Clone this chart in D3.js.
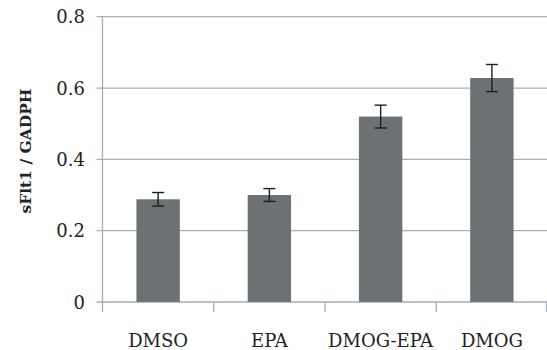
<!DOCTYPE html>
<html>
<head>
<meta charset="utf-8">
<script src="https://cdn.jsdelivr.net/npm/d3@7"></script>
<style>
  body { margin: 0; background: #fff; }
  svg { display: block; }
</style>
</head>
<body>
<svg id="chart" width="547" height="350"></svg>
<script>
const categories = ["DMSO", "EPA", "DMOG-EPA", "DMOG"];
const values = [0.288, 0.300, 0.520, 0.628];
const errors = [0.019, 0.018, 0.032, 0.038];
const yTicks = [0, 0.2, 0.4, 0.6, 0.8];
const yTickLabels = ["0", "0.2", "0.4", "0.6", "0.8"];
const yLabel = "sFlt1 / GADPH";

(function () {
const svg = d3.select("#chart");
const mLeft = 102.5, mRight = 547.5, mTop = 16.7, mBottom = 302;
const gridColor = "#a7aeb6";
const barColor = "#6c7174";
const font = "'DejaVu Serif', 'Liberation Serif', serif";

const y = d3.scaleLinear().domain([0, 0.8]).range([mBottom, mTop]);
const xBand = d3.scaleBand().domain(categories).range([mLeft, mRight]).padding(0);
const xBar = d3.scaleBand().domain(categories).range([mLeft, mRight])
  .paddingInner(0.61).paddingOuter(0.305);

// gridlines
svg.append("g").selectAll("line").data(yTicks).join("line")
  .attr("x1", mLeft - 6).attr("x2", mRight)
  .attr("y1", d => y(d)).attr("y2", d => y(d))
  .attr("stroke", gridColor).attr("stroke-width", 1.3);

// y axis line
svg.append("line")
  .attr("x1", mLeft).attr("x2", mLeft).attr("y1", mTop).attr("y2", mBottom + 10)
  .attr("stroke", gridColor).attr("stroke-width", 1.3);

// category ticks at band boundaries
const boundaries = categories.slice(1).map(c => xBand(c)).concat([mRight - 1]);
svg.append("g").selectAll("line").data(boundaries).join("line")
  .attr("x1", d => d).attr("x2", d => d)
  .attr("y1", mBottom).attr("y2", mBottom + 10)
  .attr("stroke", gridColor).attr("stroke-width", 1.3);

// y tick labels
svg.append("g").selectAll("text").data(yTicks).join("text")
  .attr("x", 85).attr("y", d => y(d) + 6.5)
  .attr("text-anchor", "end")
  .attr("font-family", font).attr("font-size", 18).attr("fill", "#222")
  .text((d, i) => yTickLabels[i]);

// bars
svg.append("g").selectAll("rect").data(categories).join("rect")
  .attr("x", d => xBar(d))
  .attr("width", xBar.bandwidth())
  .attr("y", (d, i) => y(values[i]))
  .attr("height", (d, i) => y(0) - y(values[i]))
  .attr("fill", barColor);

// error bars
const eg = svg.append("g").attr("stroke", "#1e1e1e").attr("stroke-width", 1.4);
categories.forEach((c, i) => {
  const cx = xBar(c) + xBar.bandwidth() / 2;
  const y1 = y(values[i] + errors[i]), y2 = y(values[i] - errors[i]);
  eg.append("line").attr("x1", cx).attr("x2", cx).attr("y1", y1).attr("y2", y2);
  eg.append("line").attr("x1", cx - 6).attr("x2", cx + 6).attr("y1", y1).attr("y2", y1);
  eg.append("line").attr("x1", cx - 6).attr("x2", cx + 6).attr("y1", y2).attr("y2", y2);
});

// category labels
svg.append("g").selectAll("text").data(categories).join("text")
  .attr("x", d => xBand(d) + xBand.bandwidth() / 2)
  .attr("y", 347)
  .attr("text-anchor", "middle")
  .attr("font-family", font).attr("font-size", 18).attr("fill", "#222")
  .text(d => d);

// y axis label
svg.append("text")
  .attr("transform", "translate(31,151) rotate(-90)")
  .attr("text-anchor", "middle")
  .attr("font-family", font).attr("font-size", 15.5).attr("font-weight", "bold").attr("fill", "#222")
  .text(yLabel);
})();
</script>
</body>
</html>
